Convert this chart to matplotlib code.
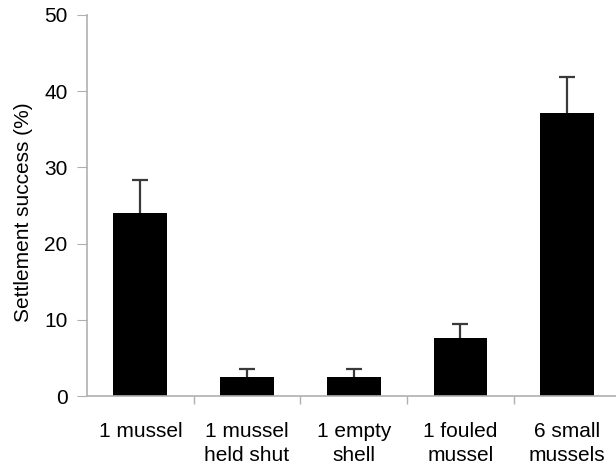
import numpy as np
import matplotlib.pyplot as plt

plt.rcParams['font.family'] = ['Liberation Sans', 'DejaVu Sans']

# data
categories = ['1 mussel', '1 mussel\nheld shut', '1 empty\nshell',
              '1 fouled\nmussel', '6 small\nmussels']
success = [24.0, 2.5, 2.5, 7.6, 37.1]
err_up = [4.3, 1.0, 1.0, 1.8, 4.8]

fig = plt.figure(figsize=(6.16, 4.72), dpi=100)
ax = fig.add_axes([87 / 616, 1 - 396 / 472, 533.5 / 616, 381 / 472])

x = np.arange(len(categories))
ax.bar(x, success, width=0.505, color='black', zorder=2)
eb = ax.errorbar(x, success, yerr=[np.zeros(len(x)), err_up], fmt='none',
                 ecolor='#3a3a3a', elinewidth=1.6, capsize=6, capthick=1.6,
                 zorder=1)
# only the upper cap
eb[1][0].set_visible(False)

ax.set_xlim(-0.5, len(categories) - 0.5)
ax.set_ylim(0, 50)
ax.set_yticks([0, 10, 20, 30, 40, 50])
ax.set_ylabel('Settlement success (%)', fontsize=15, labelpad=8, y=0.482)

# labels under bars, tick marks between them
ax.set_xticks(x)
ax.set_xticklabels(categories, fontsize=15, linespacing=1.3)
ax.set_xticks(x[:-1] + 0.5, minor=True)
ax.tick_params(axis='x', which='major', length=0, pad=19)
ax.tick_params(axis='x', which='minor', length=6, color='#b0b0b0', width=1)
ax.tick_params(axis='y', labelsize=15, length=7, color='#b0b0b0', pad=7)

for s in ['top', 'right']:
    ax.spines[s].set_visible(False)
for s in ['left', 'bottom']:
    ax.spines[s].set_color('#b0b0b0')
    ax.spines[s].set_linewidth(1.2)

fig.savefig('out.png', dpi=100)
